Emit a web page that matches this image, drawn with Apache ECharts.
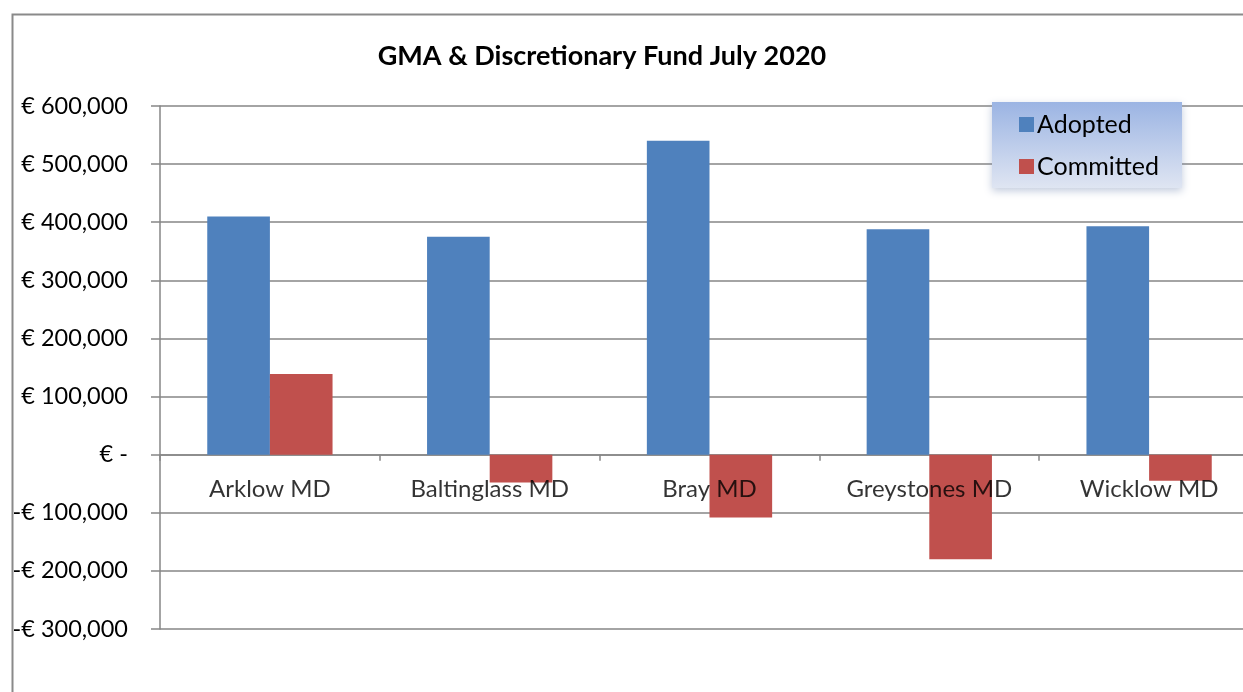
<!DOCTYPE html>
<html>
<head>
<meta charset="utf-8">
<script src="https://cdn.jsdelivr.net/npm/echarts@6/dist/echarts.min.js"></script>
<style>
html,body{margin:0;padding:0;background:#fff;}
#chart{width:1243px;height:692px;}
</style>
</head>
<body>
<div id="chart"></div>
<script>
const categories = ["Arklow MD", "Baltinglass MD", "Bray MD", "Greystones MD", "Wicklow MD"];
const adopted = [410000, 375000, 540000, 388000, 393000];
const committed = [139000, -48000, -108000, -180000, -45000];
const seriesNames = ["Adopted", "Committed"];
const titleText = "GMA & Discretionary Fund July 2020";

const FONT = "Lato, 'Liberation Sans', sans-serif";
function fmt(v) {
  if (v === 0) return "€ -";
  const s = Math.abs(v).toLocaleString("en-US");
  return (v < 0 ? "-€ " : "€ ") + s;
}

const chart = echarts.init(document.getElementById("chart"), null, {renderer: "canvas"});
chart.setOption({
  animation: false,
  backgroundColor: "#ffffff",
  title: {
    text: titleText,
    left: 597, top: 38, textAlign: "center",
    textStyle: {fontFamily: FONT, fontWeight: "bold", fontSize: 27, color: "#000"}
  },
  graphic: [
    {type: "rect", left: 10, top: 12, z: -10, silent: true,
     shape: {width: 1300, height: 720},
     style: {fill: "none", stroke: "#8a8a8a", lineWidth: 2}},
    {type: "rect", left: 992, top: 102, z: 50, silent: true,
     shape: {width: 190, height: 86},
     style: {
       fill: new echarts.graphic.LinearGradient(0, 0, 0, 1, [
         {offset: 0, color: "#9bb4e3"}, {offset: 1, color: "#dfe5f2"}
       ]),
       shadowBlur: 8, shadowColor: "rgba(120,140,180,0.45)", shadowOffsetY: 3
     }}
  ],
  legend: {
    orient: "vertical",
    left: 1014, top: 107,
    itemWidth: 15, itemHeight: 15, itemGap: 17,
    icon: "rect",
    z: 60,
    textStyle: {fontFamily: FONT, fontSize: 25, color: "#000", padding: [0,0,0,-2]},
    data: seriesNames
  },
  grid: {left: 160, right: -16, top: 106, bottom: 63, outerBoundsMode: "none", containLabel: false},
  xAxis: {
    type: "category",
    data: categories,
    axisLine: {onZero: true, lineStyle: {color: "#868686", width: 1.5}},
    axisTick: {show: true, length: 6, lineStyle: {color: "#868686", width: 1.5}},
    axisLabel: {show: false}
  },
  yAxis: {
    type: "value",
    min: -300000, max: 600000, interval: 100000,
    axisLine: {show: true, lineStyle: {color: "#868686", width: 1.5}},
    axisTick: {show: true, length: 9, lineStyle: {color: "#868686", width: 1.5}},
    splitLine: {show: true, lineStyle: {color: "#868686", width: 1.5}},
    axisLabel: {fontFamily: FONT, fontSize: 23.5, color: "#000", margin: 32, formatter: fmt}
  },
  series: [
    {name: seriesNames[0], type: "bar", data: adopted, barGap: "0%", barCategoryGap: "43%",
     itemStyle: {color: "#4f81bd"}},
    {name: seriesNames[1], type: "bar", data: committed,
     itemStyle: {color: "#c0504d"}},
    {name: "catLabels", type: "scatter", symbolSize: 0, silent: true, z: 10,
     data: categories.map(c => [c, 0]),
     label: {show: true, position: "bottom", distance: 23,
       formatter: p => p.data[0],
       fontFamily: FONT, fontSize: 24, color: "#000"}}
  ]
});
</script>
</body>
</html>
